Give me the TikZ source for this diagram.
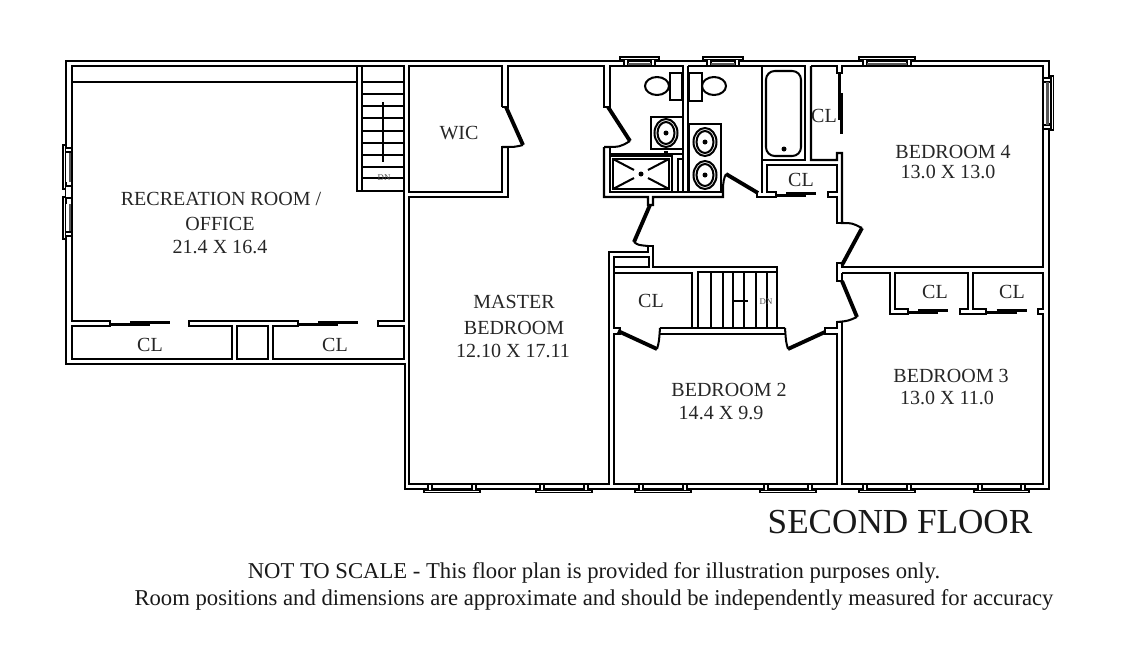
\documentclass[tikz,border=0pt]{standalone}
\usepackage{fontspec}
\setmainfont{Liberation Serif}
\tikzset{
	wall/.style={draw=black,line width=1.15pt,line join=miter},
	door/.style={draw=black,line width=2.2pt},
	slider/.style={draw=black,line width=1.3pt},
	winline/.style={draw=black,line width=0.8pt,fill=white},
	winsill/.style={draw=black!65,line width=1.7pt},
	roomtext/.style={inner sep=0pt,anchor=base,text=black!85,font=\fontsize{11.4}{13}\selectfont},
	dntext/.style={inner sep=0pt,text=black!70,font=\fontsize{5}{6}\selectfont},
	titletext/.style={inner sep=0pt,anchor=base,text=black!90,font=\fontsize{20}{24}\selectfont},
	foottext/.style={inner sep=0pt,anchor=base,text=black!90,font=\fontsize{12.9}{15}\selectfont},
}
\begin{document}
\begin{tikzpicture}[
		x=0.02cm,
		y=-0.02cm,
	]
	\useasboundingbox (0,0) rectangle (1140,646);
	
	% outer wall
	\draw[wall] (66,61) -- (1049,61) -- (1049,489) -- (405,489) -- (405,364) -- (66,364) -- cycle;
	
	% recreation room and its closets
	\draw[wall] (110,321) -- (72,321) -- (72,66) -- (404,66) -- (404,321) -- (378,321) -- (378,326) -- (404,326) -- (404,359) -- (273,359) -- (273,326) -- (298,326) -- (298,321) -- (189,321) -- (189,326) -- (232,326) -- (232,359) -- (72,359) -- (72,326) -- (110,326) -- cycle;
	\draw[wall] (237,326) rectangle (268,359);
	\draw[wall] (72,82) -- (357,82);
	\draw[wall] (357,66) -- (357,191) -- (404,191);
	\draw[wall] (362,66) -- (362,191);
	\foreach \y in {82,94,106,118,131,143,155,167,178}{
		\draw[wall] (362,\y) -- (404,\y);
	}
	\draw[wall] (383,102) -- (383,162);
	
	% sliding doors
	\foreach \a/\b/\y in {110/170/323.5, 298/358/323.5, 776/816/194.5, 908/948/311.5, 986/1027/311.5}{
		\draw[slider] (\a,\y+0.9) -- ({(\a+\b)/2+10},\y+0.9);
		\draw[slider] ({(\a+\b)/2-10},\y-0.9) -- (\b,\y-0.9);
	}
	\draw[slider] (839.5,73) -- (839.5,120);
	\draw[slider] (841.5,93) -- (841.5,134);
	
	% WIC and master bedroom
	\draw[wall] (502,107) -- (502,66) -- (409,66) -- (409,192) -- (502,192) -- (502,147) -- (508,147) -- (508,197) -- (409,197) -- (409,484) -- (609,484) -- (609,252) -- (648,252) -- (648,246) -- (653,246) -- (653,267) -- (777,267) -- (777,328) -- (785,328);
	\draw[wall] (502,107) -- (508,107) -- (508,66) -- (604,66) -- (604,107) -- (610,107) -- (610,66) -- (683,66) -- (683,192);
	\draw[door] (506,107) -- (523,145);
	\draw[wall] (523,145) .. controls (515,147) .. (502,147);
	\draw[door] (608,107) -- (630,141);
	\draw[wall] (630,141) .. controls (620,147) .. (604,147);
	
	% baths
	\draw[wall] (604,147) -- (604,197) -- (648,197) -- (648,205) -- (653,205) -- (653,197) -- (723,197) -- (723,190) .. controls (723,182) and (724,178) .. (726,174);
	\draw[wall] (604,147) -- (610,147) -- (610,154) -- (683,154);
	\draw[wall] (610,156) rectangle (672,192);
	\draw[wall] (613,159) rectangle (669,189);
	\draw[wall] (610,192) -- (721,192);
	\draw[wall] (672,154) -- (672,192);
	\draw[wall] (678,192) -- (678,159) -- (683,159);
	\draw[door] (664,153) -- (668,153);
	\foreach \a/\b/\c/\d in {613/159/634/170, 669/159/648/170, 613/189/634/178, 669/189/648/178}{
		\draw[wall] (\a,\b) -- (\c,\d);
	}
	\fill (641,174) circle (2.5);
	\draw[door] (650,205) -- (634,242);
	\draw[wall] (634,242) .. controls (638,245) .. (648,246);
	\draw[wall] (651,117) rectangle (683,149);
	\draw[wall] (670,73) rectangle (682,100);
	\draw[wall] (657,86) ellipse [x radius=12, y radius=9];
	\draw[wall] (688,66) -- (688,192);
	\draw[wall] (688,66) -- (805,66) -- (805,160) -- (762,160);
	\draw[wall] (762,66) -- (762,193);
	\draw[wall] (689,73) rectangle (702,101);
	\draw[wall] (714,86) ellipse [x radius=12, y radius=9];
	\draw[wall] (689,124) rectangle (721,192);
	\foreach \x/\y in {666/133, 705/142, 705/175}{
		\draw[wall] (\x,\y) ellipse [x radius=11.5, y radius=14];
		\draw[wall] (\x,\y) ellipse [x radius=8.5, y radius=11];
		\fill (\x,\y) circle (2.5);
	}
	\draw[wall,rounded corners=5pt] (766,71) rectangle (801,156);
	\fill (784,149) circle (2.5);
	\draw[door] (726,174) -- (758,193);
	
	% closets and bedroom 4
	\draw[wall] (757,193) -- (757,197) -- (776,197) -- (776,192) -- (767,192) -- (767,165) -- (837,165) -- (837,192) -- (828,192) -- (828,197) -- (837,197) -- (837,223) -- (842,223);
	\draw[wall] (811,66) -- (811,160) -- (837,160) -- (837,153) -- (842,153) -- (842,223) .. controls (852,223) .. (862,228);
	\draw[wall] (811,66) -- (837,66) -- (837,73) -- (842,73) -- (842,66) -- (1043,66) -- (1043,267) -- (842,267) -- (842,263) -- (837,263) -- (837,281) -- (842,281) -- (842,273);
	\draw[door] (862,228) -- (842,265);
	\draw[door] (842,281) -- (857,317);
	\draw[wall] (857,317) .. controls (848,321) .. (837,322);
	
	% bedroom 3 and closets
	\draw[wall] (842,273) -- (890,273) -- (890,314) -- (908,314) -- (908,309) -- (895,309) -- (895,273) -- (968,273) -- (968,309) -- (960,309) -- (960,314) -- (986,314) -- (986,309) -- (973,309) -- (973,273) -- (1043,273) -- (1043,309) -- (1038,309) -- (1038,314) -- (1043,314) -- (1043,484) -- (842,484) -- (842,322) -- (837,322) -- (837,328) -- (825,328) -- (825,334) -- (837,334) -- (837,484) -- (614,484) -- (614,334) -- (620,334) -- (620,328) -- (614,328) -- (614,273) -- (692,273) -- (692,328) -- (660,328) -- (785,328);
	\draw[wall] (660,334) -- (785,334);
	\draw[wall] (609,252) -- (609,484);
	\draw[wall] (614,267) -- (614,273);
	\draw[wall] (614,257) rectangle (649,267);
	
	% bedroom 2 doors and stairs
	\draw[door] (618,331) -- (657,349);
	\draw[wall] (657,349) .. controls (659,342) .. (660,328);
	\draw[door] (825,332) -- (788,349);
	\draw[wall] (788,349) .. controls (786,342) .. (785,328);
	\draw[wall] (698,328) -- (698,272) -- (777,272);
	\foreach \x in {711,723,733,744,756,767}{
		\draw[wall] (\x,272) -- (\x,328);
	}
	\draw[wall] (732,301) -- (748,301);
	
	% windows
	\foreach \a/\b in {424/480, 536/592, 635/691, 760/816, 859/915, 974/1029}{
		\draw[winline] (\a,490.5) rectangle (\b,492.5);
		\draw[winline] ({\a+4},484) rectangle ({\a+8},490.5);
		\draw[winline] ({\b-8},484) rectangle ({\b-4},490.5);
	}
	\foreach \a/\b in {620/659, 703/743, 859/915}{
		\draw[winline] (\a,57) rectangle (\b,59.5);
		\draw[winline] ({\a+4},59.5) rectangle ({\a+8},66);
		\draw[winline] ({\b-8},59.5) rectangle ({\b-4},66);
		\draw[winsill] ({\a+8},64) -- ({\b-8},64);
	}
	\fill[white] (1045,83) rectangle (1051,123);
	\draw[wall] (1043,83) -- (1043,123);
	\draw[winline] (1051,76) rectangle (1053.5,130);
	\draw[winline] (1043,78) rectangle (1051,82);
	\draw[winline] (1043,125) rectangle (1051,129);
	\draw[winsill] (1047,82) -- (1047,125);
	\foreach \a/\b in {145/189, 197/239}{
		\fill[white] (65,{\a+7}) rectangle (68,{\b-7});
		\draw[winline] (63,\a) rectangle (65.5,\b);
		\draw[winsill] (70,{\a+7}) -- (70,{\b-7});
	}
	\draw[winline] (65.5,148) rectangle (72,152);
	\draw[winline] (65.5,186) rectangle (72,198);
	\draw[winline] (65.5,232) rectangle (72,236);
	
	% room labels
	\node[roomtext] (recreation) at (221,205) {RECREATION ROOM /};
	\node[roomtext] (office) at (220,230) {OFFICE};
	\node[roomtext] (recsize) at (220,253) {21.4 X 16.4};
	\node[roomtext] (clrecleft) at (150,351) {CL};
	\node[roomtext] (clrecright) at (335,351) {CL};
	\node[roomtext] (wic) at (459,139) {WIC};
	\node[roomtext] (master) at (514,308) {MASTER};
	\node[roomtext] (masterb) at (514,334) {BEDROOM};
	\node[roomtext] (mastersize) at (513,357) {12.10 X 17.11};
	\node[roomtext] (bedfour) at (953,158) {BEDROOM 4};
	\node[roomtext] (bedfoursize) at (948,178) {13.0 X 13.0};
	\node[roomtext] (bedtwo) at (729,396) {BEDROOM 2};
	\node[roomtext] (bedtwosize) at (721,419) {14.4 X 9.9};
	\node[roomtext] (bedthree) at (951,382) {BEDROOM 3};
	\node[roomtext] (bedthreesize) at (947,404) {13.0 X 11.0};
	\node[roomtext] (clhalltop) at (824,122) {CL};
	\node[roomtext] (clhall) at (801,186) {CL};
	\node[roomtext] (clbedtwo) at (651,307) {CL};
	\node[roomtext] (clbedleft) at (935,298) {CL};
	\node[roomtext] (clbedright) at (1012,298) {CL};
	\node[dntext] (dnrec) at (384,178) {DN};
	\node[dntext] (dnhall) at (766,302) {DN};
	
	\node[titletext] (title) at (900,533) {SECOND FLOOR};
	\node[foottext] (footone) at (594,578) {NOT TO SCALE - This floor plan is provided for illustration purposes only.};
	\node[foottext] (foottwo) at (594,605) {Room positions and dimensions are approximate and should be independently measured for accuracy};
\end{tikzpicture}
\end{document}
